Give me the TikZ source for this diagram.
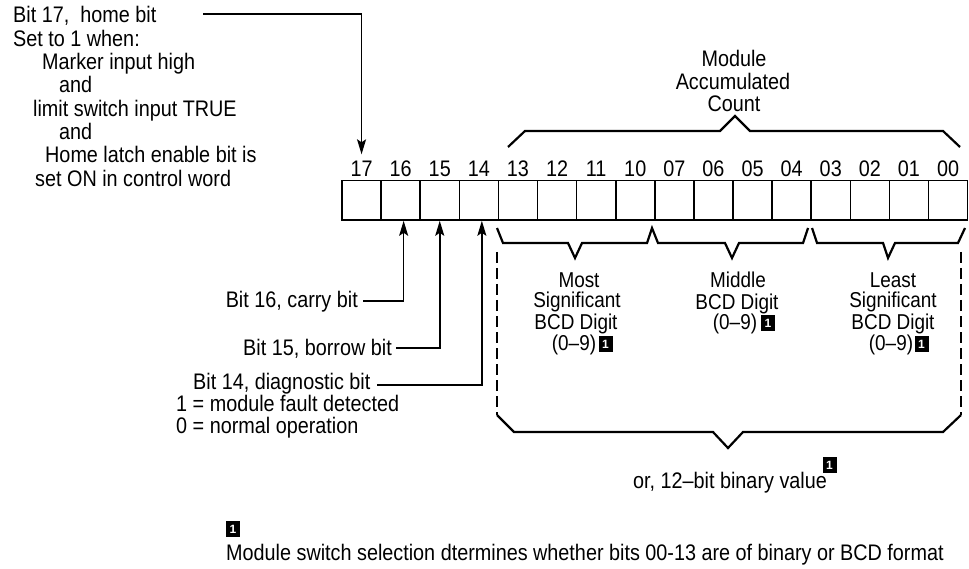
\documentclass[tikz,border=0pt]{standalone}
\usepackage{fontspec}
\setmainfont[FakeStretch=0.88]{Liberation Sans}
\newfontfamily\markfont{Liberation Sans}
\usetikzlibrary{arrows.meta}
\begin{document}
\begin{tikzpicture}[x=1pt,y=-1pt,
  txt/.style={font=\fontsize{22.5}{23}\selectfont, inner sep=0pt},
  bcd/.style={font=\fontsize{21.5}{20}\selectfont, inner sep=0pt},
  cell/.style={draw, line width=1.6pt, minimum width=39.1pt, minimum height=39.3pt, inner sep=0pt},
  conn/.style={line width=1.5pt},
  arr/.style={conn, -{Stealth[length=15pt,width=9pt,inset=3pt]}},
  brace/.style={line width=2.2pt, line join=miter},
  dashln/.style={line width=2.6pt, dash pattern=on 11pt off 5pt},
  fn/.style={fill=black, text=white, inner sep=0pt, minimum width=14pt, minimum height=16pt,
             font=\markfont\fontsize{12}{12}\selectfont\bfseries}]
\useasboundingbox (0,0) rectangle (969,569);

% bit cells and labels
\foreach \i/\lab in {0/17,1/16,2/15,3/14,4/13,5/12,6/11,7/10,8/07,9/06,10/05,11/04,12/03,13/02,14/01,15/00}{
  \node[cell] (c\lab) at ({342+39.1*\i+19.55}, 200.35) {};
  \node[txt, anchor=base] (l\lab) at ({342+39.1*\i+19.55}, 177) {\lab};
}

% left description of bit 17
\node[txt, anchor=base west] (t17) at (13,23) {Bit 17,\ \ home bit};
\node[txt, anchor=base west] (t17b) at (13,47) {Set to 1 when:};
\node[txt, anchor=base west] (t17c) at (42,70) {Marker input high};
\node[txt, anchor=base west] (t17d) at (59,93) {and};
\node[txt, anchor=base west] (t17e) at (33,117) {limit switch input TRUE};
\node[txt, anchor=base west] (t17f) at (59,140) {and};
\node[txt, anchor=base west] (t17g) at (45,163) {Home latch enable bit is};
\node[txt, anchor=base west] (t17h) at (35,187) {set ON in control word};
\coordinate (a17) at (203,14);
\draw[arr] (a17) -| ([yshift=7pt]l17.north);

% bits 16, 15, 14
\node[txt, anchor=base east] (t16) at (358,308) {Bit 16, carry bit};
\node[txt, anchor=base east] (t15) at (392,355) {Bit 15, borrow bit};
\node[txt, anchor=base west] (t14) at (193,389) {Bit 14, diagnostic bit};
\node[txt, anchor=base west] (t14b) at (176,411) {1 = module fault detected};
\node[txt, anchor=base west] (t14c) at (176,433) {0 = normal operation};
\coordinate (a16) at (363,301);
\coordinate (a15) at (396,348);
\coordinate (a14) at (377,385);
\draw[arr] (a16) -| ([xshift=3pt]c16.south);
\draw[arr] (a15) -| (c15.south);
\draw[arr] (a14) -| ([xshift=3pt]c14.south);

% module accumulated count brace
\draw[brace] (508,147) -- (525,131) -- (720,131) -- (735,116) -- (750,131) -- (943,131) -- (960,147);
\node[txt, anchor=base] (mac1) at (734,67) {Module};
\node[txt, anchor=base] (mac2) at (733,90) {Accumulated};
\node[txt, anchor=base] (mac3) at (734,112) {Count};

% BCD digit braces
\draw[brace] (497,228) -- (503,243) -- (568,243) -- (575,258) -- (582,243) -- (647,243) -- (652,228)
  -- (658,243) -- (725,243) -- (732,258) -- (739,243) -- (803,243) -- (808,228);
\draw[brace] (812,228) -- (817,243) -- (883,243) -- (888,258) -- (895,243) -- (958,243) -- (965,228);

\node[bcd, anchor=base] (ms1) at (579,288) {Most};
\node[bcd, anchor=base] (ms2) at (577,308) {Significant};
\node[bcd, anchor=base] (ms3) at (576,330) {BCD Digit};
\node[bcd, anchor=base] (ms4) at (574,350) {(0–9)};
\node[fn] (fm1) at (605.5,344) {1};

\node[bcd, anchor=base] (md1) at (738,288) {Middle};
\node[bcd, anchor=base] (md2) at (737,309) {BCD Digit};
\node[bcd, anchor=base] (md3) at (735,329) {(0–9)};
\node[fn] (fm2) at (768,323) {1};

\node[bcd, anchor=base] (ls1) at (893,288) {Least};
\node[bcd, anchor=base] (ls2) at (893,308) {Significant};
\node[bcd, anchor=base] (ls3) at (893,330) {BCD Digit};
\node[bcd, anchor=base] (ls4) at (891,350) {(0–9)};
\node[fn] (fm3) at (921.5,344) {1};

% dashed enclosure and bottom brace
\draw[dashln] (497,252) -- (497,415);
\draw[dashln] (961,252) -- (961,415);
\draw[brace] (497,415) -- (514,432) -- (713,432) -- (728,448) -- (743,432) -- (943,432) -- (961,415);
\node[txt, anchor=base] (bin) at (730,488) {or, 12–bit binary value};
\node[fn] (fm4) at (829.5,465) {1};

% footnote
\node[fn] (fm5) at (233,529) {1};
\node[txt, anchor=base west] (fnote) at (226,560) {Module switch selection dtermines whether bits 00-13 are of binary or BCD format};
\end{tikzpicture}
\end{document}
